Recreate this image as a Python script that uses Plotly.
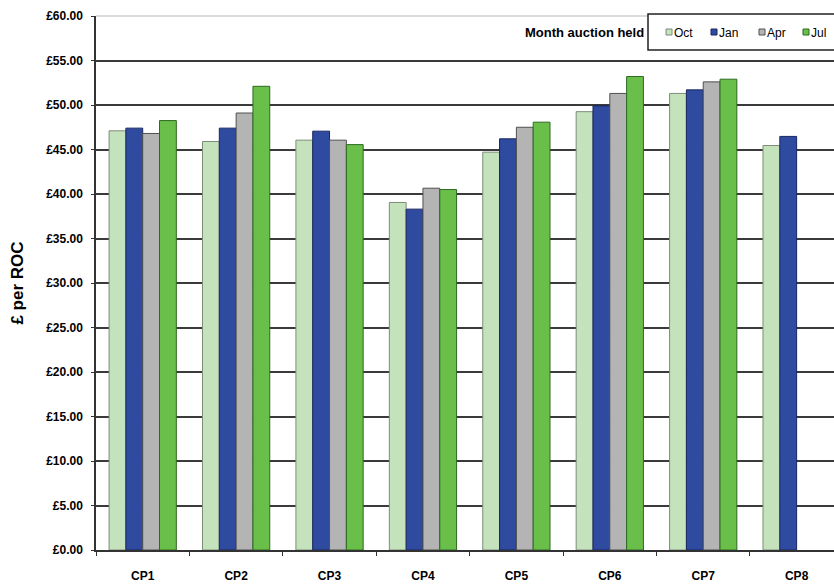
import plotly.graph_objects as go

categories = ["CP1", "CP2", "CP3", "CP4", "CP5", "CP6", "CP7", "CP8"]
oct_vals = [47.1, 45.9, 46.05, 39.05, 44.7, 49.25, 51.3, 45.45]
jan_vals = [47.4, 47.4, 47.06, 38.3, 46.2, 49.9, 51.7, 46.47]
apr_vals = [46.8, 49.1, 46.05, 40.65, 47.5, 51.3, 52.6, None]
jul_vals = [48.25, 52.1, 45.55, 40.5, 48.07, 53.2, 52.9, None]
series_names = ["Oct", "Jan", "Apr", "Jul"]
series_vals = [oct_vals, jan_vals, apr_vals, jul_vals]
fill_colors = ["#c4e2bc", "#2e4ba0", "#b4b4b4", "#6abf4a"]
line_colors = ["#7d8c78", "#1a2660", "#505050", "#2d6a20"]

W, H = 834, 584
L, R, T, B = 96, 0, 16, 34
PW, PH = W - L - R, H - T - B

def px(x):
    return (x - L) / PW

def py(y):
    return (H - B - y) / PH

fig = go.Figure()
for name, vals, fc, lc in zip(series_names, series_vals, fill_colors, line_colors):
    fig.add_trace(go.Bar(
        x=categories, y=vals, name=name,
        marker=dict(color=fc, line=dict(color=lc, width=1)),
        showlegend=False,
    ))

font_family = "Liberation Sans, Arial, sans-serif"

fig.update_layout(
    width=W, height=H,
    margin=dict(l=L, r=R, t=T, b=B),
    paper_bgcolor="white", plot_bgcolor="white",
    barmode="group", bargap=0.28, bargroupgap=0,
    font=dict(family=font_family, color="black"),
    xaxis=dict(
        range=[-0.5, 7.4],
        showline=True, linecolor="#333", linewidth=1.5,
        ticks="outside", tickson="boundaries", ticklen=4, tickcolor="#333",
        tickfont=dict(size=12, weight="bold"),
        ticklabelstandoff=14,
        showgrid=False,
    ),
    yaxis=dict(
        range=[0, 60], dtick=5,
        tickprefix="£", tickformat=".2f",
        showline=True, linecolor="#333", linewidth=1.5,
        ticks="outside", ticklen=3, tickcolor="#333",
        tickfont=dict(size=12, weight="bold"),
        ticklabelstandoff=6,
        showgrid=True, gridcolor="#3a3a3a", gridwidth=1.5,
        zeroline=False,
        title=dict(text="£ per ROC", font=dict(size=17, weight="bold"), standoff=18),
    ),
)

# top boundary line (lighter)
fig.add_shape(type="line", xref="paper", yref="paper", x0=0, x1=1, y0=1, y1=1,
              line=dict(color="#cfcfcf", width=1.5), layer="above")

# manual legend
fig.add_shape(type="rect", xref="paper", yref="paper",
              x0=px(648), x1=px(842), y0=py(50), y1=py(14),
              line=dict(color="#222", width=1.5), fillcolor="white", layer="above")
fig.add_annotation(text="<b>Month auction held</b>", xref="paper", yref="paper",
                   x=px(646), y=py(33), xanchor="right", yanchor="middle",
                   showarrow=False, font=dict(size=13, family=font_family))
sq_x = [666, 711, 759, 803]
for name, fc, lc, sx in zip(series_names, fill_colors, line_colors, sq_x):
    fig.add_shape(type="rect", xref="paper", yref="paper",
                  x0=px(sx), x1=px(sx + 6), y0=py(35), y1=py(29),
                  line=dict(color=lc, width=1), fillcolor=fc, layer="above")
    fig.add_annotation(text=name, xref="paper", yref="paper",
                       x=px(sx + 6), y=py(33), xanchor="left", yanchor="middle",
                       showarrow=False, font=dict(size=12, family=font_family))

fig.write_html("out.html")
